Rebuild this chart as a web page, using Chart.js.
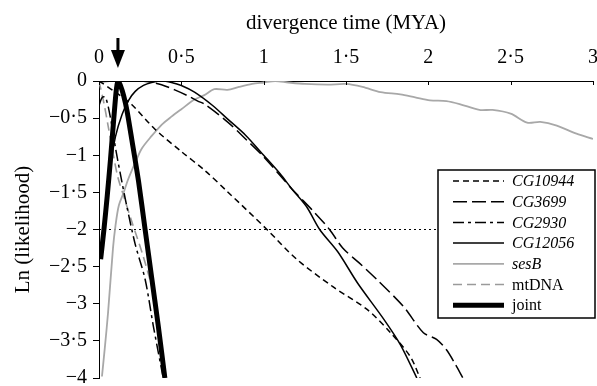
<!DOCTYPE html>
<html><head><meta charset="utf-8">
<script src="https://cdn.jsdelivr.net/npm/chart.js@4/dist/chart.umd.min.js"></script>
<style>html,body{margin:0;padding:0;background:#fff;} canvas{display:block;}</style>
</head><body>
<canvas id="c" width="597" height="386"></canvas>
<script>
// ---- data (divergence time in MYA, ln likelihood) ----
const xTicks = [0, 0.5, 1, 1.5, 2, 2.5, 3];
const yTicks = [0, -0.5, -1, -1.5, -2, -2.5, -3, -3.5, -4];
const legendOrder = ['CG10944', 'CG3699', 'CG2930', 'CG12056', 'sesB', 'mtDNA', 'joint'];
const italicNames = ['CG10944', 'CG3699', 'CG2930', 'CG12056', 'sesB'];

const cg10944T = [0, 0.1, 0.2, 0.34, 0.5, 0.64, 0.78, 1.02, 1.2, 1.42, 1.63, 1.77, 1.89, 1.95];
const cg10944V = [0, -0.15, -0.32, -0.65, -0.95, -1.2, -1.49, -2.0, -2.4, -2.77, -3.08, -3.39, -3.71, -4.0];

const cg3699T = [0, 0.1, 0.2, 0.3, 0.38, 0.46, 0.54, 0.6, 0.64, 0.78, 0.89, 1.0, 1.17, 1.3, 1.4, 1.48, 1.58, 1.69, 1.85, 1.97, 2.05, 2.11, 2.16, 2.21];
const cg3699V = [-0.01, 0, 0, -0.01, -0.05, -0.12, -0.2, -0.27, -0.31, -0.55, -0.78, -1.02, -1.45, -1.75, -2.0, -2.25, -2.45, -2.68, -3.04, -3.39, -3.48, -3.62, -3.8, -4.0];

const cg2930T = [0, 0.02, 0.04, 0.07, 0.1, 0.14, 0.17, 0.22, 0.28, 0.33, 0.39];
const cg2930V = [-0.33, -0.22, -0.22, -0.5, -0.9, -1.37, -1.7, -2.2, -2.67, -3.3, -4.0];

const cg12056T = [0.04, 0.07, 0.1, 0.14, 0.18, 0.22, 0.27, 0.32, 0.38, 0.44, 0.5, 0.58, 0.69, 0.78, 0.89, 1.0, 1.1, 1.17, 1.26, 1.34, 1.45, 1.57, 1.73, 1.83, 1.93];
const cg12056V = [-1.75, -1.15, -0.75, -0.45, -0.26, -0.14, -0.06, -0.02, 0, -0.02, -0.06, -0.15, -0.33, -0.51, -0.73, -1.0, -1.25, -1.45, -1.69, -2.0, -2.3, -2.72, -3.21, -3.55, -4.0];

const sesBT = [0.018, 0.035, 0.055, 0.085, 0.1, 0.12, 0.15, 0.176, 0.22, 0.26, 0.32, 0.38, 0.44, 0.5, 0.58, 0.64, 0.7, 0.78, 0.85, 0.93, 1.0, 1.07, 1.15, 1.25, 1.39, 1.5, 1.6, 1.71, 1.83, 1.92, 2.01, 2.11, 2.19, 2.31, 2.39, 2.5, 2.6, 2.68, 2.78, 2.9, 3.0];
const sesBV = [-3.98, -3.6, -3.12, -2.25, -1.95, -1.68, -1.5, -1.33, -1.1, -0.91, -0.74, -0.59, -0.48, -0.38, -0.25, -0.19, -0.11, -0.12, -0.08, -0.04, -0.02, 0, -0.02, -0.04, -0.05, -0.04, -0.08, -0.15, -0.18, -0.22, -0.26, -0.27, -0.31, -0.39, -0.39, -0.44, -0.56, -0.55, -0.6, -0.71, -0.78];

const mtDNAT = [0, 0.03, 0.055, 0.085, 0.115, 0.15, 0.2, 0.267, 0.33, 0.36];
const mtDNAV = [0, -0.3, -0.6, -0.97, -1.3, -1.55, -1.9, -2.35, -2.85, -3.2];

const jointT = [0.01, 0.03, 0.05, 0.07, 0.09, 0.105, 0.115, 0.13, 0.15, 0.17, 0.2, 0.24, 0.28, 0.32, 0.36, 0.4];
const jointV = [-2.4, -2.0, -1.55, -1.05, -0.5, -0.12, 0, -0.06, -0.2, -0.4, -0.8, -1.35, -2.0, -2.65, -3.3, -4.0];

const cutoffT = [0, 3];
const cutoffV = [-2, -2];

const arrowAt = 0.115;

// ---- helpers ----
const pts = (t, v) => t.map((x, i) => ({ x: x, y: v[i] }));
const fmt = v => String(v).replace('-', '\u2212').replace('.', '\u00B7');
const FONT = '"Liberation Serif", "Times New Roman", serif';

const datasets = [
  { label: 'joint', data: pts(jointT, jointV), borderColor: '#000', borderWidth: 5, tension: 0.25, order: 0 },
  { label: 'CG10944', data: pts(cg10944T, cg10944V), borderColor: '#000', borderWidth: 1.5, borderDash: [6, 4], tension: 0.3, order: 2 },
  { label: 'CG3699', data: pts(cg3699T, cg3699V), borderColor: '#000', borderWidth: 1.5, borderDash: [14, 5], tension: 0.3, order: 2 },
  { label: 'CG2930', data: pts(cg2930T, cg2930V), borderColor: '#000', borderWidth: 1.5, borderDash: [11, 4, 3, 4], tension: 0.3, order: 2 },
  { label: 'CG12056', data: pts(cg12056T, cg12056V), borderColor: '#000', borderWidth: 1.5, tension: 0.3, order: 2 },
  { label: 'sesB', data: pts(sesBT, sesBV), borderColor: '#a8a8a8', borderWidth: 1.8, tension: 0.3, order: 3 },
  { label: 'mtDNA', data: pts(mtDNAT, mtDNAV), borderColor: '#9a9a9a', borderWidth: 1.6, borderDash: [9, 5], tension: 0.3, order: 3 },
  { label: 'cutoff', data: pts(cutoffT, cutoffV), borderColor: '#000', borderWidth: 1, borderDash: [2, 3], tension: 0, order: 5 }
];

const decorPlugin = {
  id: 'decor',
  afterDraw(chart) {
    const ctx = chart.ctx;
    const xs = chart.scales.x;
    const top = chart.chartArea.top;
    ctx.save();
    // inward ticks on top axis
    ctx.strokeStyle = '#000';
    ctx.lineWidth = 1;
    xTicks.forEach(v => {
      const px = Math.round(xs.getPixelForValue(v)) + 0.5;
      ctx.beginPath(); ctx.moveTo(px, top); ctx.lineTo(px, top + 4); ctx.stroke();
    });
    // arrow
    const ax = xs.getPixelForValue(arrowAt);
    ctx.fillStyle = '#000';
    ctx.fillRect(ax - 1.5, 38, 3, 14);
    ctx.beginPath(); ctx.moveTo(ax - 7, 50); ctx.lineTo(ax + 7, 50); ctx.lineTo(ax, 68); ctx.closePath(); ctx.fill();
    // legend box
    const bx = 438, by = 170, bw = 157, bh = 148;
    ctx.fillStyle = '#fff'; ctx.fillRect(bx, by, bw, bh);
    ctx.lineWidth = 1.5; ctx.strokeStyle = '#000'; ctx.strokeRect(bx, by, bw, bh);
    legendOrder.forEach((name, i) => {
      const ds = chart.data.datasets.find(d => d.label === name);
      const y = 181 + i * 20.7;
      ctx.beginPath();
      ctx.setLineDash(ds.borderDash || []);
      ctx.lineWidth = ds.borderWidth;
      ctx.strokeStyle = ds.borderColor;
      ctx.moveTo(453, y); ctx.lineTo(504, y); ctx.stroke();
      ctx.setLineDash([]);
      ctx.font = (italicNames.includes(name) ? 'italic ' : '') + '16px ' + FONT;
      ctx.fillStyle = '#000'; ctx.textBaseline = 'middle'; ctx.textAlign = 'left';
      ctx.fillText(name, 512, y + 1);
    });
    ctx.restore();
  }
};

new Chart(document.getElementById('c'), {
  type: 'line',
  data: { datasets: datasets },
  options: {
    responsive: false,
    animation: false,
    devicePixelRatio: 1,
    layout: { padding: { left: 0, right: 4, top: 0, bottom: 8 } },
    elements: { point: { radius: 0 }, line: { fill: false } },
    plugins: { legend: { display: false }, tooltip: { enabled: false } },
    scales: {
      x: {
        type: 'linear', position: 'top', min: 0, max: 3,
        afterBuildTicks: s => { s.ticks = xTicks.map(v => ({ value: v })); },
        afterFit: s => { s.height = 81; s.paddingLeft = 0; s.paddingRight = 0; },
        grid: { drawOnChartArea: false, drawTicks: false },
        border: { display: true, color: '#000', width: 1 },
        ticks: { color: '#000', padding: 11, maxRotation: 0, autoSkip: false, font: { family: FONT, size: 20 }, callback: v => fmt(v) },
        title: { display: true, text: 'divergence time (MYA)', color: '#000', font: { family: FONT, size: 21 }, padding: { top: 11, bottom: 0 } }
      },
      y: {
        type: 'linear', position: 'left', min: -4, max: 0,
        afterBuildTicks: s => { s.ticks = yTicks.map(v => ({ value: v })); },
        afterFit: s => { s.width = 99; s.paddingTop = 0; s.paddingBottom = 0; },
        grid: { drawOnChartArea: false, drawTicks: true, tickLength: 6, color: '#000' },
        border: { display: true, color: '#000', width: 1 },
        ticks: { color: '#000', padding: 6, autoSkip: false, font: { family: FONT, size: 20 }, callback: v => fmt(v) },
        title: { display: true, text: 'Ln (likelihood)', color: '#000', font: { family: FONT, size: 21 }, padding: { top: 11, bottom: 0 } }
      }
    }
  },
  plugins: [decorPlugin]
});
</script>
</body></html>
